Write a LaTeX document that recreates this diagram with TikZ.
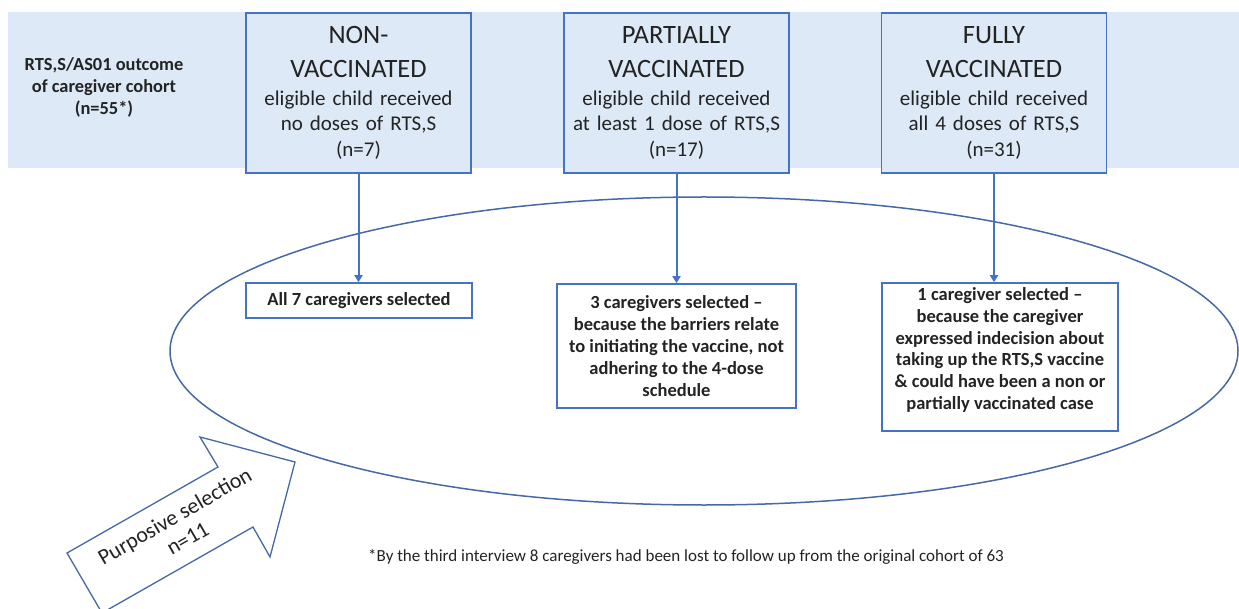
\documentclass[tikz,border=0pt]{standalone}
\usepackage{fontspec}
\setmainfont{Carlito}
\usetikzlibrary{arrows.meta}
\definecolor{bandblue}{RGB}{221,233,246}
\definecolor{boxline}{RGB}{68,114,196}
\definecolor{ovalline}{RGB}{70,105,165}
\definecolor{txt}{RGB}{35,35,35}
\newcommand{\ttlfont}{\fontsize{26.5}{25.5}\selectfont}
\tikzset{
  topbox/.style={draw=boxline, line width=1.6pt, fill=bandblue, minimum width=225, minimum height=160,
    text width=220, align=center, inner sep=0pt, text=txt, font=\fontsize{21}{25.5}\selectfont},
  lowbox/.style={draw=boxline, line width=1.6pt, fill=white, inner sep=0pt, align=center, text=txt,
    font=\bfseries\fontsize{18.5}{21.8}\selectfont},
  conn/.style={draw=boxline, line width=2pt, -{Triangle[width=8pt,length=7pt]}},
}
\begin{document}
\begin{tikzpicture}[x=1pt,y=-1pt]
\useasboundingbox (0,0) rectangle (1239,609);
% band
\fill[bandblue] (8,12) rectangle (1239,168);
\node[text=txt, align=center, font=\bfseries\fontsize{18.4}{22}\selectfont] (lab) at (104,87)
  {RTS,S/AS01 outcome\\of caregiver cohort\\(n=55*)};
% top boxes
\node[topbox] (b1) at (358.5,93) {{\ttlfont NON-}\\[8pt]{\ttlfont VACCINATED}\\[2.5pt]eligible child received\\no doses of RTS,S\\(n=7)};
\node[topbox] (b2) at (676.5,93) {{\ttlfont PARTIALLY}\\[8pt]{\ttlfont VACCINATED}\\[2.5pt]eligible child received\\at least 1 dose of RTS,S\\(n=17)};
\node[topbox] (b3) at (994,93) {{\ttlfont FULLY}\\[8pt]{\ttlfont VACCINATED}\\[2.5pt]eligible child received\\all 4 doses of RTS,S\\(n=31)};
% oval
\draw[ovalline, line width=1.5pt] (704,351) ellipse [x radius=534, y radius=154];
% lower boxes
\node[lowbox, minimum width=226, minimum height=35] (l1) at (359,300.5) {All 7 caregivers selected};
\node[lowbox, minimum width=239, minimum height=124] (l2) at (676.5,346) {3 caregivers selected --\\because the barriers relate\\to initiating the vaccine, not\\adhering to the 4-dose\\schedule};
\node[lowbox, minimum width=236, minimum height=148, text depth=17pt] (l3) at (1000,357) {1 caregiver selected --\\because the caregiver\\expressed indecision about\\taking up the RTS,S vaccine\\\& could have been a non or\\partially vaccinated case};
% connectors
\draw[conn] (b1.south) -- (b1.south |- l1.north);
\draw[conn] (b2.south) -- (b2.south |- l2.north);
\draw[conn] (b3.south) -- (b3.south |- l3.north);
% block arrow
\draw[ovalline, line width=1.3pt, fill=white, line join=miter]
  (67,553) -- (218,467) -- (200,437) -- (295,462) -- (270,557) -- (253,527) -- (102,613) -- cycle;
\node[rotate=30, align=center, text=txt, font=\fontsize{22}{25.5}\selectfont] (pl) at (181,527) {Purposive selection\\n=11};
% footnote
\node[anchor=west, text=txt, font=\fontsize{17}{20}\selectfont, inner sep=0pt] (fn) at (368,557)
  {*By the third interview 8 caregivers had been lost to follow up from the original cohort of 63};
\end{tikzpicture}
\end{document}
